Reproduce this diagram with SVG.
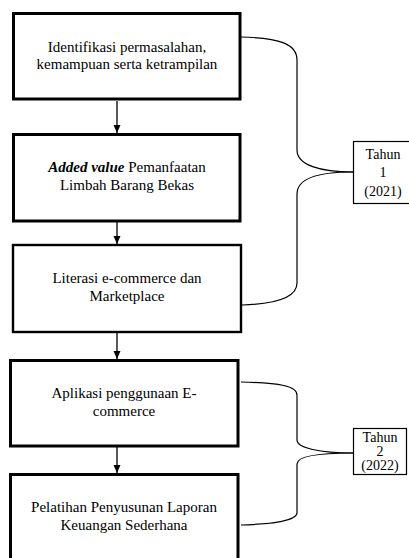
<svg xmlns="http://www.w3.org/2000/svg" width="409" height="558" viewBox="0 0 409 558">
<style>
.box{fill:#fff;stroke:#000;stroke-width:3}
.thin{fill:#fff;stroke:#000;stroke-width:1.2}
.t{font-family:"Liberation Serif","Times New Roman",serif;font-size:15px;fill:#000;text-anchor:middle}
.s{font-size:14px}
.c{fill:none;stroke:#000;stroke-width:1.2}
.a{fill:none;stroke:#000;stroke-width:1.3;marker-end:url(#ah)}
</style>
<defs>
<marker id="ah" viewBox="0 0 8 8" refX="8" refY="4" markerWidth="8" markerHeight="8" markerUnits="userSpaceOnUse" orient="auto">
<path d="M0,0.5 L8,4 L0,7.5 Z" fill="#000"/>
</marker>
</defs>
<rect width="409" height="558" fill="#fff"/>
<g id="connectors">
<line class="a" x1="117" y1="101" x2="117" y2="133"/>
<line class="a" x1="117" y1="222" x2="117" y2="244"/>
<line class="a" x1="117" y1="333" x2="117" y2="359"/>
<line class="a" x1="117" y1="447" x2="117" y2="473"/>
<path class="c" d="M241,37 C280,38 297,44 297,60 L297,150 C297,165 320,172 353,172"/>
<path class="c" d="M353,172 C320,172 297,178 297,194 L297,283 C297,298 275,304 242,305"/>
<path class="c" d="M241,382 C280,383 297,386 297,395 L297,440 C297,448 320,453 353,453"/>
<path class="c" d="M353,453 C320,453 297,456 297,464 L297,513 C297,520 275,524 241,525"/>
</g>
<g id="n1">
<rect class="box" x="13.5" y="13.5" width="226.5" height="85.5"/>
<text class="t" x="127" y="52">Identifikasi permasalahan,</text>
<text class="t" x="127" y="69">kemampuan serta ketrampilan</text>
</g>
<g id="n2">
<rect class="box" x="13.5" y="134.5" width="226.5" height="86.5"/>
<text class="t" x="127" y="172"><tspan font-weight="bold" font-style="italic">Added value</tspan> Pemanfaatan</text>
<text class="t" x="127" y="190">Limbah Barang Bekas</text>
</g>
<g id="n3">
<rect class="box" style="stroke-width:2.4" x="13" y="245" width="228" height="87"/>
<text class="t" x="127" y="283">Literasi e-commerce dan</text>
<text class="t" x="127" y="301">Marketplace</text>
</g>
<g id="n4">
<rect class="box" x="10.5" y="360.5" width="227.5" height="85.5"/>
<text class="t" x="124" y="398">Aplikasi penggunaan E-</text>
<text class="t" x="124" y="416">commerce</text>
</g>
<g id="n5">
<rect class="box" x="10.5" y="474.5" width="227.5" height="90"/>
<text class="t" x="124" y="512">Pelatihan Penyusunan Laporan</text>
<text class="t" x="124" y="530">Keuangan Sederhana</text>
</g>
<g id="tahun1">
<rect class="thin" x="353.5" y="141.5" width="64" height="62"/>
<text class="t s" x="383" y="159">Tahun</text>
<text class="t s" x="383" y="177">1</text>
<text class="t s" x="383" y="196">(2021)</text>
</g>
<g id="tahun2">
<rect class="thin" x="353.5" y="428.5" width="53" height="46"/>
<text class="t s" x="380" y="442">Tahun</text>
<text class="t s" x="380" y="456">2</text>
<text class="t s" x="380" y="470">(2022)</text>
</g>
</svg>
